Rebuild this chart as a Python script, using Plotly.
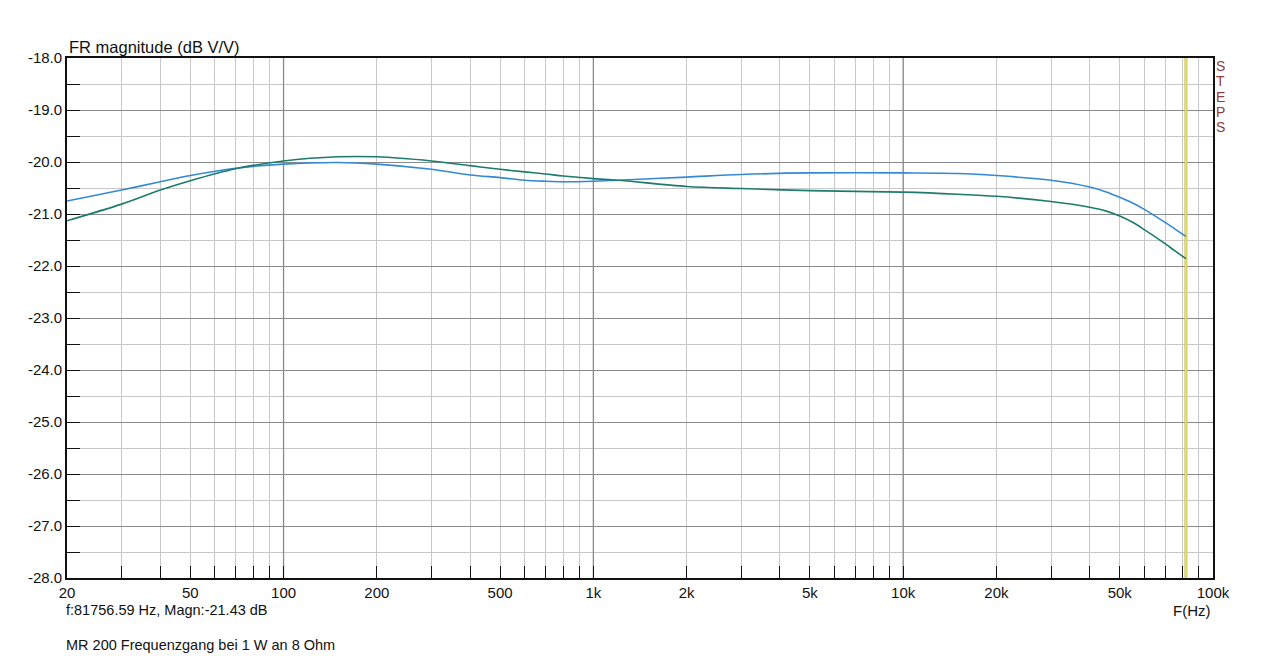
import plotly.graph_objects as go

freq = [20, 30, 40, 50, 70, 100, 150, 200, 300, 400, 500, 600, 700, 800,
        1000, 1200, 2000, 3000, 5000, 10000, 15000, 20000, 30000, 40000,
        45000, 50000, 55000, 60000, 70000, 75000, 81756.59]
mag_blue = [-20.75, -20.54, -20.38, -20.26, -20.12, -20.04, -20.01, -20.04,
            -20.14, -20.25, -20.30, -20.35, -20.37, -20.38, -20.37, -20.35,
            -20.29, -20.24, -20.21, -20.21, -20.22, -20.26, -20.35, -20.48,
            -20.57, -20.68, -20.79, -20.91, -21.16, -21.28, -21.43]
mag_green = [-21.13, -20.81, -20.54, -20.36, -20.13, -19.98, -19.90, -19.90,
             -19.98, -20.07, -20.14, -20.19, -20.23, -20.27, -20.32, -20.35,
             -20.47, -20.51, -20.55, -20.58, -20.62, -20.66, -20.76, -20.87,
             -20.94, -21.04, -21.16, -21.30, -21.57, -21.70, -21.86]

cursor_f = 81756.59
cursor_mag = -21.43

# axis ticks
x_grid = [20, 30, 40, 50, 60, 70, 80, 90,
          100, 200, 300, 400, 500, 600, 700, 800, 900,
          1000, 2000, 3000, 4000, 5000, 6000, 7000, 8000, 9000,
          10000, 20000, 30000, 40000, 50000, 60000, 70000, 80000, 90000, 100000]
x_labels = {20: "20", 50: "50", 100: "100", 200: "200", 500: "500",
            1000: "1k", 2000: "2k", 5000: "5k", 10000: "10k", 20000: "20k",
            50000: "50k", 100000: "100k"}
x_decades = [100, 1000, 10000]
y_ticks = [-28, -27, -26, -25, -24, -23, -22, -21, -20, -19, -18]
y_min, y_max = -28, -18

FONT = "Liberation Sans, Arial, sans-serif"

fig = go.Figure()

# darker decade grid lines
for d in x_decades:
    fig.add_trace(go.Scatter(x=[d, d], y=[y_min, y_max], mode="lines",
                             line=dict(color="#8a8a8a", width=1.3),
                             hoverinfo="skip", showlegend=False))

# cursor line (yellow with olive edge)
fig.add_trace(go.Scatter(x=[cursor_f, cursor_f], y=[y_min, y_max], mode="lines",
                         line=dict(color="#c8bf50", width=3),
                         hoverinfo="skip", showlegend=False))
fig.add_trace(go.Scatter(x=[cursor_f, cursor_f], y=[y_min, y_max], mode="lines",
                         line=dict(color="#f2ea8a", width=1.1),
                         hoverinfo="skip", showlegend=False))

fig.add_trace(go.Scatter(x=freq, y=mag_blue, mode="lines",
                         line=dict(color="#3389d4", width=1.6, shape="spline", smoothing=0.9),
                         showlegend=False))
fig.add_trace(go.Scatter(x=freq, y=mag_green, mode="lines",
                         line=dict(color="#1d7b6c", width=1.6, shape="spline", smoothing=0.9),
                         showlegend=False))

fig.update_xaxes(
    type="log", range=[1.30103, 5.0],
    tickvals=x_grid, ticktext=[x_labels.get(v, "") for v in x_grid],
    ticks="inside", ticklen=12, tickwidth=1.3, tickcolor="#111",
    showgrid=True, gridcolor="#c8c8c8", gridwidth=1.2,
    showline=True, linecolor="#111", linewidth=1.8, mirror=True,
    tickfont=dict(family=FONT, size=15, color="#111"),
    zeroline=False,
)
fig.update_yaxes(
    range=[y_min, y_max],
    tickvals=y_ticks, ticktext=["%.1f" % v for v in y_ticks],
    ticks="inside", ticklen=13, tickwidth=1.3, tickcolor="#111",
    showgrid=True, gridcolor="#8a8a8a", gridwidth=1.3,
    minor=dict(dtick=0.5, tick0=-28, ticks="inside", ticklen=13, tickwidth=1.3,
               tickcolor="#111", showgrid=True, gridcolor="#c8c8c8", gridwidth=1.2),
    showline=True, linecolor="#111", linewidth=1.8, mirror=True,
    tickfont=dict(family=FONT, size=15, color="#111"),
    zeroline=False,
)

annotations = [
    dict(text="FR magnitude (dB V/V)", x=0, y=1, xref="paper", yref="paper",
         xanchor="left", yanchor="bottom", xshift=0, yshift=0, showarrow=False,
         font=dict(family=FONT, size=16.5, color="#111")),
    dict(text="f:%.2f Hz, Magn:%.2f dB" % (cursor_f, cursor_mag), x=0, y=0,
         xref="paper", yref="paper", xanchor="left", yanchor="middle",
         xshift=-3, yshift=-32, showarrow=False,
         font=dict(family=FONT, size=14.5, color="#111")),
    dict(text="MR 200 Frequenzgang bei 1 W an 8 Ohm", x=0, y=0,
         xref="paper", yref="paper", xanchor="left", yanchor="middle",
         xshift=-3, yshift=-67, showarrow=False,
         font=dict(family=FONT, size=14.5, color="#111")),
    dict(text="F(Hz)", x=1, y=0, xref="paper", yref="paper",
         xanchor="right", yanchor="middle", yshift=-32, showarrow=False,
         font=dict(family=FONT, size=15, color="#111")),
]
for i, ch in enumerate("STEPS"):
    annotations.append(dict(text=ch, x=1, y=1, xref="paper", yref="paper",
                            xanchor="left", yanchor="middle", xshift=1,
                            yshift=-8 - 15.3 * i, showarrow=False,
                            font=dict(family=FONT, size=14, color="#8e3b3b")))

fig.update_layout(
    width=1280, height=656,
    margin=dict(l=67, r=67, t=58, b=78),
    paper_bgcolor="white", plot_bgcolor="white",
    annotations=annotations,
    hovermode=False,
)

# drop the default 8px page margin so the figure fills the window
fig.write_html("out.html", config={"displayModeBar": False},
               post_script="document.body.style.margin='0';")
